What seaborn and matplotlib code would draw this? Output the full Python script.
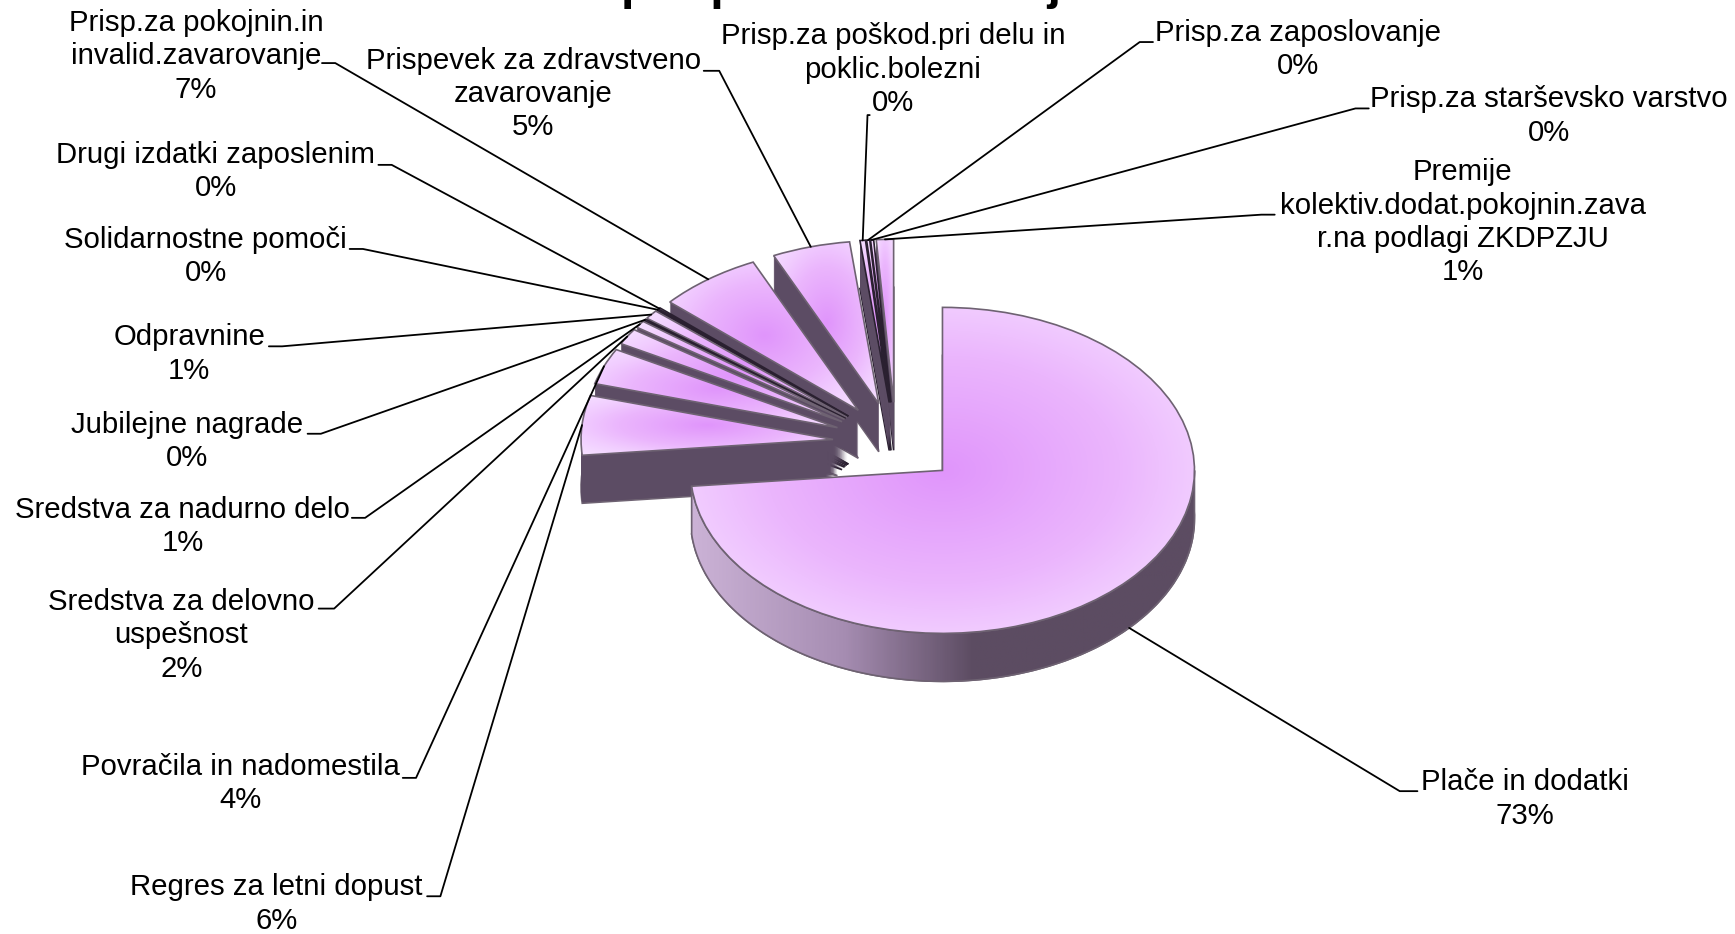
import numpy as np
import matplotlib
matplotlib.use("Agg")
import matplotlib.pyplot as plt
from matplotlib.colors import LinearSegmentedColormap
from matplotlib.patches import Polygon
import seaborn as sns

# ---- data ----
labels = ["Plače in dodatki", "Regres za letni dopust", "Povračila in nadomestila",
          "Sredstva za delovno\nuspešnost", "Sredstva za nadurno delo", "Jubilejne nagrade",
          "Odpravnine", "Solidarnostne pomoči", "Drugi izdatki zaposlenim",
          "Prisp.za pokojnin.in\ninvalid.zavarovanje", "Prispevek za zdravstveno\nzavarovanje",
          "Prisp.za poškod.pri delu in\npoklic.bolezni", "Prisp.za zaposlovanje",
          "Prisp.za starševsko varstvo", "Premije\nkolektiv.dodat.pokojnin.zava\nr.na podlagi ZKDPZJU"]
values = [73.45, 5.9, 3.6, 1.6, 0.7, 0.15, 0.9, 0.1, 0.15, 6.6, 5.0, 0.35, 0.2, 0.2, 1.1]
pct_text = ["73%", "6%", "4%", "2%", "1%", "0%", "1%", "0%", "0%", "7%", "5%", "0%", "0%", "0%", "1%"]
title_text = "prispevkov delodajalcev"

# ---- layout (shrunk-picture pixels) ----
W, H = 1735, 934
SC = 1735 / 1568
CX, CY, RX, RY = 895.8, 443.0, 252.0, 163.0
DEPTH = 48
EXPLODE = 0.25
label_pos = [(1378, 722), (250, 817), (217, 708), (164, 574), (165, 476), (169, 399), (171, 320),
             (186, 232), (195, 155), (177, 51), (482, 85), (807, 63), (1173, 45), (1400, 105), (1322, 201)]
leader_start = [(1281, 715), (386, 810), (364, 703), (288, 550), (318, 468), (278, 392), (243, 313),
                (316, 225), (342, 149), (291, 57), (636, 64), (786, 104), (1042, 38), (1237, 98), (1152, 194)]
leader_elbow = [(1265, 715), (398, 810), (376, 703), (302, 550), (330, 468), (290, 392), (255, 313),
                (328, 225), (354, 149), (303, 57), (650, 64), (784, 104), (1030, 38), (1225, 98), (1140, 194)]


def px(x, y):
    """reference pixel -> pie data coordinates"""
    return (x - CX) / RX, (CY - y) / RY


sns.set_theme(style="white")
plt.rcParams["font.family"] = ["Liberation Sans", "DejaVu Sans"]
fig = plt.figure(figsize=(W / 100, H / 100), dpi=100, facecolor="white")
ax = fig.add_axes([0, 0, 1, 1])

top_cmap = LinearSegmentedColormap.from_list("top", [(0, "#E095FB"), (0.5, "#EBB6FD"), (0.72, "#F1CCFF"), (1, "#F6E2FF")])
wall_cmap = LinearSegmentedColormap.from_list("wall", [(0, "#CBB2D6"), (0.3, "#A68DB2"), (0.56, "#5C4C62"), (1, "#5C4C62")])
WALL = "#5C4C64"
EDGE = "#6E6272"
DARK_EDGE = "#2A2030"

n = len(values)
rank = [n + 1] + [n - i for i in range(1, n)]
explode = [EXPLODE] * n

# extruded side walls: the pie stacked downwards, one pixel per layer
for k in range(DEPTH, 0, -1):
    wedges, _ = ax.pie(values, explode=explode, startangle=90, counterclock=False,
                       center=(0, -k / RY), radius=1.0)
    for i, w in enumerate(wedges):
        w.set_facecolor(WALL)
        w.set_zorder(rank[i] * 100 + (DEPTH - k))
        if k == DEPTH:
            w.set_edgecolor(DARK_EDGE if values[i] < 2 else EDGE)
            w.set_linewidth(1.2)
        else:
            w.set_edgecolor("none")
            w.set_linewidth(0)

# top faces
tops, _ = ax.pie(values, explode=explode, startangle=90, counterclock=False, radius=1.0)
for i, w in enumerate(tops):
    z = rank[i] * 100 + DEPTH + 2
    w.set_facecolor("none")
    w.set_edgecolor(DARK_EDGE if values[i] < 0.5 else EDGE)
    w.set_linewidth(1.2)
    w.set_zorder(z + 1)
    ext = w.get_path().get_extents()
    gx, gy = np.meshgrid(np.linspace(ext.x0, ext.x1, 200), np.linspace(ext.y0, ext.y1, 200))
    d = np.hypot((gx - (ext.x0 + ext.x1) / 2) / (ext.width / 2), (gy - (ext.y0 + ext.y1) / 2) / (ext.height / 2)) / 1.414
    im = ax.imshow(d, extent=(ext.x0, ext.x1, ext.y0, ext.y1), origin="lower", aspect="auto",
                   cmap=top_cmap, vmin=0, vmax=1, zorder=z, interpolation="bilinear")
    im.set_clip_path(w)

# gradient on the outer wall of the big slice
m = tops[0]
mc = np.array(m.center)
th = np.radians(np.linspace(m.theta1, 0, 200))
xs, ys = mc[0] + np.cos(th), mc[1] + np.sin(th)
poly = np.vstack([np.column_stack([xs, ys]), np.column_stack([xs, ys - DEPTH / RY])[::-1]])
z = rank[0] * 100 + DEPTH + 1
patch = Polygon(poly, closed=True, facecolor="none", edgecolor=EDGE, linewidth=1.2, zorder=z + 0.5)
ax.add_patch(patch)
g = np.linspace(0, 1, 300)[None, :]
gi = ax.imshow(g, extent=(xs.min(), xs.max(), ys.min() - DEPTH / RY, ys.max()), origin="lower",
               aspect="auto", cmap=wall_cmap, vmin=0, vmax=1, zorder=z)
gi.set_clip_path(patch)

# labels and leader lines
for i, w in enumerate(tops):
    tx, ty = px(label_pos[i][0] * SC, label_pos[i][1] * SC)
    ax.text(tx, ty, f"{labels[i]}\n{pct_text[i]}", ha="center", va="center", fontsize=21.2,
            linespacing=1.245, color="black", zorder=5000)
    mid = np.radians((w.theta1 + w.theta2) / 2)
    ax_, ay_ = w.center[0] + np.cos(mid), w.center[1] + np.sin(mid)
    if i == 0:
        ay_ -= DEPTH / RY
    sx, sy = px(leader_start[i][0] * SC, leader_start[i][1] * SC)
    ex, ey = px(leader_elbow[i][0] * SC, leader_elbow[i][1] * SC)
    ax.plot([sx, ex, ax_], [sy, ey, ay_], color="black", lw=1.3, zorder=4000, solid_joinstyle="round")

# title: only its descenders fall inside the picture
tx, ty = px(902, -1)
ax.text(tx, ty, title_text, ha="center", va="baseline", fontsize=35, fontweight="bold", color="black", zorder=5000)

ax.set_aspect("auto")
ax.set_xlim(-CX / RX, (W - CX) / RX)
ax.set_ylim((CY - H) / RY, CY / RY)
ax.set_frame_on(False)
ax.set_xticks([])
ax.set_yticks([])
fig.savefig("out.png", dpi=100, facecolor="white")
